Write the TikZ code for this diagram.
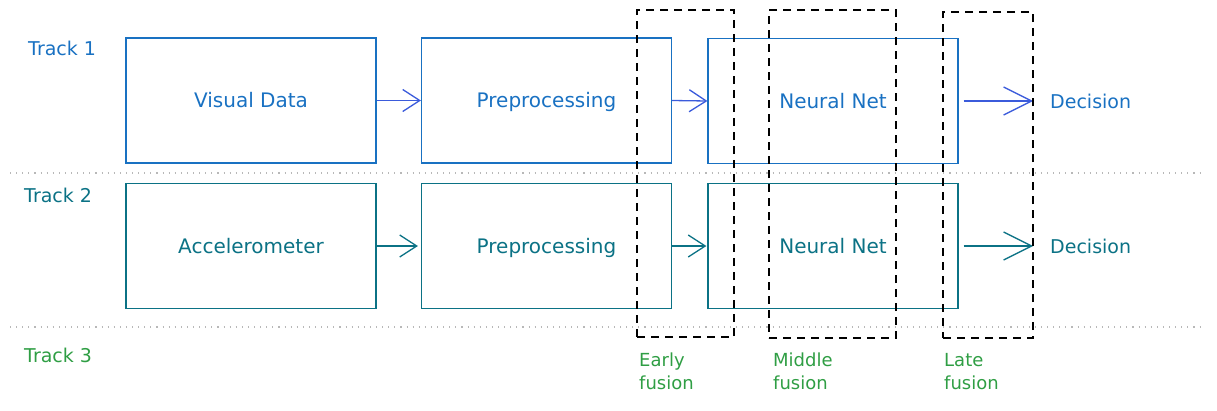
\documentclass[tikz,border=0pt]{standalone}
\usepackage{fontspec}
\setmainfont{DejaVu Sans}
\usetikzlibrary{arrows.meta}
\definecolor{tblue}{HTML}{1971C2}
\definecolor{tteal}{HTML}{0B7285}
\definecolor{tgreen}{HTML}{2F9E44}
\definecolor{tindigo}{HTML}{3B5BDB}
\definecolor{sepgray}{HTML}{B8B8B8}
\tikzset{
  procbox/.style={draw, line width=1.2pt, minimum width=250pt, minimum height=125pt, inner sep=0pt, text height=14pt, text depth=0pt, font=\fontsize{20}{24}\selectfont},
  fusebox/.style={draw=black, line width=1.2pt, dash pattern=on 8pt off 6pt, inner sep=0pt},
  flow/.style={line width=1.3pt, -{Straight Barb[length=17pt,width=22pt,line width=1.3pt]}},
  bigflow/.style={line width=1.3pt, -{Straight Barb[length=28pt,width=28pt,line width=1.3pt]}},
  tracklabel/.style={font=\fontsize{19}{22}\selectfont, anchor=west, inner sep=0pt, text height=14pt, text depth=0pt},
  declabel/.style={font=\fontsize{19}{22}\selectfont, anchor=west, inner sep=0pt, text height=14pt, text depth=0pt},
  fuselabel/.style={font=\fontsize{18}{23}\selectfont, text=tgreen, anchor=north west, inner sep=0pt, align=left},
  sep/.style={draw=sepgray, line width=1.1pt, dash pattern=on 1.1pt off 5pt}
}
\begin{document}
\begin{tikzpicture}[x=1pt,y=-1pt]
\useasboundingbox (0,0) rectangle (1217,410);
% separators
\coordinate (s1a) at (10,173); \coordinate (s1b) at (1202,173);
\coordinate (s2a) at (10,327); \coordinate (s2b) at (1202,327);
\draw[sep] (s1a) -- (s1b);
\draw[sep] (s2a) -- (s2b);
% track labels
\node[tracklabel, text=tblue] (t1) at (28,48) {Track 1};
\node[tracklabel, text=tteal] (t2) at (24,195) {Track 2};
\node[tracklabel, text=tgreen] (t3) at (24,355) {Track 3};
% track 1
\node[procbox, draw=tblue, text=tblue] (vis) at (251,100.5) {Visual Data};
\node[procbox, draw=tblue, text=tblue] (pre1) at (546.5,100.5) {Preprocessing};
\node[procbox, draw=tblue, text=tblue] (nn1) at (833,101) {Neural Net};
\node[declabel, text=tblue] (dec1) at (1050,101) {Decision};
% track 2
\node[procbox, draw=tteal, text=tteal] (acc) at (251,246) {Accelerometer};
\node[procbox, draw=tteal, text=tteal] (pre2) at (546.5,246) {Preprocessing};
\node[procbox, draw=tteal, text=tteal] (nn2) at (833,246) {Neural Net};
\node[declabel, text=tteal] (dec2) at (1050,246) {Decision};
% arrows
\draw[flow, draw=tindigo] (vis.east) -- (pre1.west);
\draw[flow, draw=tindigo] (pre1.east) -- (nn1.west);
\draw[bigflow, draw=tindigo, shorten <=5pt, shorten >=17pt] (nn1.east) -- (dec1.west);
\draw[flow, draw=tteal, shorten >=3pt] (acc.east) -- (pre2.west);
\draw[flow, draw=tteal, shorten >=1pt] (pre2.east) -- (nn2.west);
\draw[bigflow, draw=tteal, shorten <=5pt, shorten >=17pt] (nn2.east) -- (dec2.west);
% fusion boxes
\node[fusebox, minimum width=97pt, minimum height=327pt] (early) at (685.5,173.5) {};
\node[fusebox, minimum width=127pt, minimum height=328pt] (middle) at (832.5,174) {};
\node[fusebox, minimum width=90pt, minimum height=326pt] (late) at (988,175) {};
% fusion labels
\node[fuselabel] (el) at (639,353) {Early\\fusion};
\node[fuselabel] (ml) at (773,353) {Middle\\fusion};
\node[fuselabel] (ll) at (944,353) {Late\\fusion};
\end{tikzpicture}
\end{document}
